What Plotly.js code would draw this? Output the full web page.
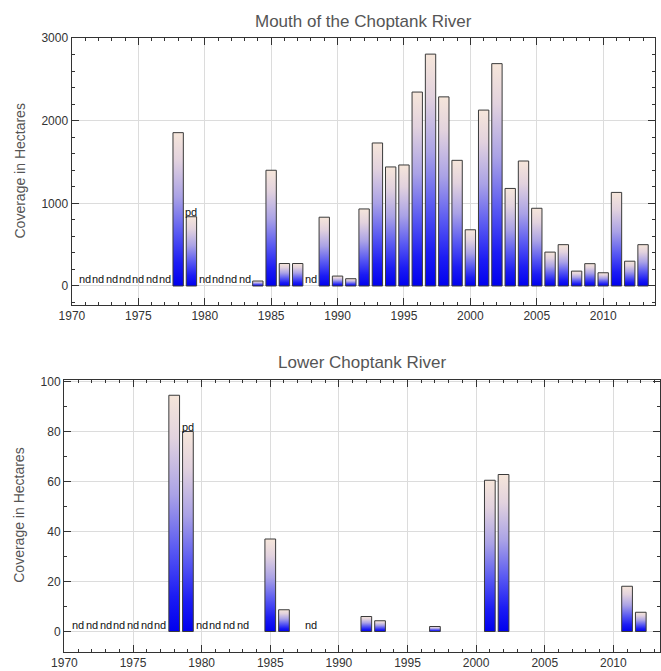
<!DOCTYPE html>
<html>
<head>
<meta charset="utf-8">
<script src="https://cdn.plot.ly/plotly-3.0.1.min.js"></script>
<style>
html,body{margin:0;padding:0;background:#fff;}
#chart{width:661px;height:671px;}
</style>
</head>
<body>
<div id="chart"></div>
<script>
// ---- Data ----
const years = [1971,1972,1973,1974,1975,1976,1977,1978,1979,1980,1981,1982,1983,1984,1985,1986,1987,1988,1989,1990,1991,1992,1993,1994,1995,1996,1997,1998,1999,2000,2001,2002,2003,2004,2005,2006,2007,2008,2009,2010,2011,2012,2013];

const mouthValues = [null,null,null,null,null,null,null,1855,838,null,null,null,null,60,1400,272,272,null,832,120,88,932,1730,1440,1464,2346,2805,2288,1520,680,2128,2690,1180,1512,940,410,500,180,270,160,1132,300,500];
const mouthFlags  = ['nd','nd','nd','nd','nd','nd','nd','','pd','nd','nd','nd','nd','','','','','nd','','','','','','','','','','','','','','','','','','','','','','','','',''];

const lowerValues = [null,null,null,null,null,null,null,94.5,80,null,null,null,null,null,37,8.7,null,null,null,null,null,6,4.3,null,null,null,2,null,null,null,60.5,62.8,null,null,null,null,null,null,null,null,18.1,7.7,null];
const lowerFlags  = ['nd','nd','nd','nd','nd','nd','nd','','pd','nd','nd','nd','nd','','','','','nd','','','','','','','','','','','','','','','','','','','','','','','','',''];

const titles = ['Mouth of the Choptank River', 'Lower Choptank River'];
const yTitle = 'Coverage in Hectares';

// ---- Styling ----
const W = 661, H = 671;
const FONT = 'Liberation Sans, Arial, sans-serif';
const px = v => v / W, py = v => 1 - v / H;

const topDom = {x:[px(71.5), px(655)], y:[py(305), py(38)]};
const botDom = {x:[px(64), px(660)], y:[py(651.5), py(380)]};

function barTrace(vals, xa, ya) {
  return {
    type: 'bar', x: years, y: vals, xaxis: xa, yaxis: ya,
    width: 0.78,
    marker: {color: '#6a6af0', line: {color: '#3a3a3a', width: 1}},
    hoverinfo: 'x+y', showlegend: false
  };
}

function axisBase() {
  return {
    showline: true, linecolor: '#333', linewidth: 1, mirror: 'ticks',
    ticks: 'inside', ticklen: 7, tickwidth: 1, tickcolor: '#333',
    showgrid: true, gridcolor: '#dcdcdc', gridwidth: 1, zeroline: false,
    tickfont: {family: FONT, size: 12, color: '#333'},
    fixedrange: true
  };
}

function xAxis(dom, range, anchor) {
  return Object.assign(axisBase(), {
    domain: dom, range: range, anchor: anchor,
    tickmode: 'linear', tick0: 1970, dtick: 5,
    minor: {dtick: 1, tick0: 1970, ticklen: 3, tickcolor: '#333', ticks: 'inside', showgrid: false}
  });
}
function yAxis(dom, range, dtick, minorD, anchor) {
  return Object.assign(axisBase(), {
    domain: dom, range: range, anchor: anchor,
    tickmode: 'linear', tick0: 0, dtick: dtick,
    minor: {dtick: minorD, tick0: 0, ticklen: 3, tickcolor: '#333', ticks: 'inside', showgrid: false}
  });
}

const annotations = [];
function flagAnnots(flags, vals, xref, yref) {
  flags.forEach((f, i) => {
    if (!f) return;
    annotations.push({
      xref: xref, yref: yref, x: years[i], y: f === 'pd' ? vals[i] : 0,
      text: f, showarrow: false, yanchor: 'bottom', xanchor: 'center',
      yshift: f === 'pd' ? -2 : 0, borderpad: 0,
      font: {family: FONT, size: 11, color: '#111'}
    });
  });
}
flagAnnots(mouthFlags, mouthValues, 'x', 'y');
flagAnnots(lowerFlags, lowerValues, 'x2', 'y2');

// titles
annotations.push({xref:'paper', yref:'paper', x:(topDom.x[0]+topDom.x[1])/2, y:py(21.5), text:titles[0], showarrow:false, xanchor:'center', yanchor:'middle', font:{family:FONT, size:17, color:'#555'}});
annotations.push({xref:'paper', yref:'paper', x:(botDom.x[0]+botDom.x[1])/2, y:py(362), text:titles[1], showarrow:false, xanchor:'center', yanchor:'middle', font:{family:FONT, size:17, color:'#555'}});
annotations.push({xref:'paper', yref:'paper', x:px(19), y:(topDom.y[0]+topDom.y[1])/2, text:yTitle, textangle:-90, showarrow:false, xanchor:'center', yanchor:'middle', font:{family:FONT, size:14, color:'#555'}});
annotations.push({xref:'paper', yref:'paper', x:px(19), y:(botDom.y[0]+botDom.y[1])/2, text:yTitle, textangle:-90, showarrow:false, xanchor:'center', yanchor:'middle', font:{family:FONT, size:14, color:'#555'}});

const data = [barTrace(mouthValues, 'x', 'y'), barTrace(lowerValues, 'x2', 'y2')];

const layout = {
  width: W, height: H,
  margin: {l:0, r:0, t:0, b:0},
  paper_bgcolor: '#fff', plot_bgcolor: '#fff',
  bargap: 0,
  xaxis: xAxis(topDom.x, [1969.97, 2013.9], 'y'),
  yaxis: yAxis(topDom.y, [-230, 3000], 1000, 200, 'x'),
  xaxis2: xAxis(botDom.x, [1969.97, 2013.4], 'y2'),
  yaxis2: yAxis(botDom.y, [-8, 100.6], 20, 10, 'x2'),
  annotations: annotations,
  font: {family: FONT}
};

function applyGradient(gd) {
  const svg = gd.querySelector('.main-svg');
  const ns = 'http://www.w3.org/2000/svg';
  let defs = svg.querySelector('defs');
  if (!defs) { defs = document.createElementNS(ns, 'defs'); svg.insertBefore(defs, svg.firstChild); }
  const g = document.createElementNS(ns, 'linearGradient');
  g.setAttribute('id', 'barGrad');
  g.setAttribute('x1', '0'); g.setAttribute('y1', '0');
  g.setAttribute('x2', '0'); g.setAttribute('y2', '1');
  const stops = [[0, '#f6e6da'], [0.18, '#e2d2de'], [0.42, '#aaa2e6'], [0.65, '#5a5af2'], [0.85, '#1c1cf4'], [1, '#0000ee']];
  stops.forEach(([o, c]) => {
    const s = document.createElementNS(ns, 'stop');
    s.setAttribute('offset', o);
    s.setAttribute('stop-color', c);
    g.appendChild(s);
  });
  defs.appendChild(g);
  gd.querySelectorAll('.barlayer .point path').forEach(p => {
    p.style.fill = 'url(#barGrad)';
  });
}

Plotly.newPlot('chart', data, layout, {displayModeBar: false, staticPlot: true}).then(applyGradient);
</script>
</body>
</html>
